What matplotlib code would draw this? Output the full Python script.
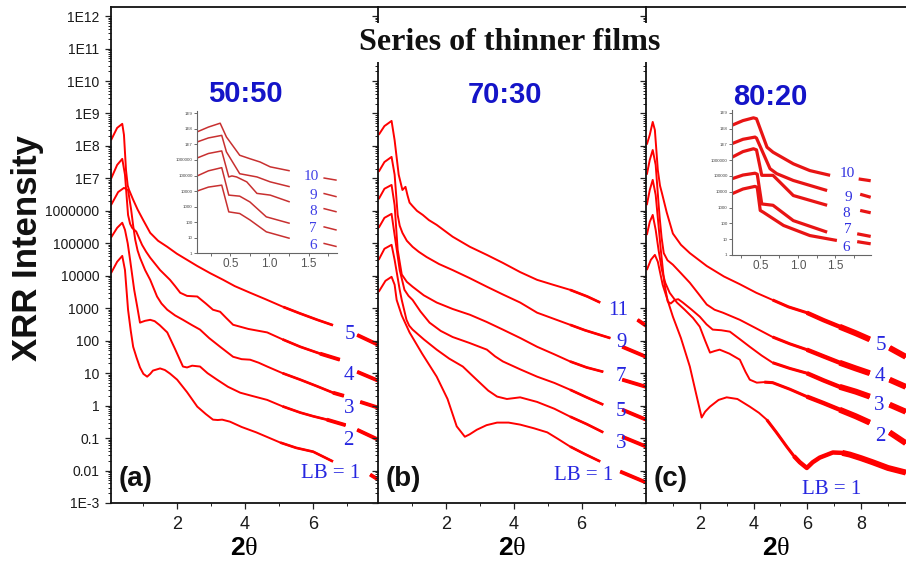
import numpy as np
import matplotlib
matplotlib.use('Agg')
import matplotlib.pyplot as plt
from matplotlib.ticker import LogLocator, FuncFormatter, FixedLocator, NullFormatter

plt.rcParams['font.family'] = ['Liberation Sans', 'DejaVu Sans']
plt.rcParams['mathtext.fontset'] = 'custom'
plt.rcParams['mathtext.bf'] = 'Liberation Sans:bold'
plt.rcParams['mathtext.rm'] = 'Liberation Serif'

nan = np.nan

# ---- (a) 50:50, LB = 1..5 ----
a5_x = [0.07, 0.25, 0.40, 0.45, 0.51, 0.56, 0.60, 0.72, 0.85, 1.01, 1.22, 1.45, 1.72, 2.00, 2.30, 2.60, 2.98, 3.36,
        3.70, 4.15, 4.60, 5.12, 5.60, 6.12, 6.58, nan, 7.29, 7.90]
a5_y = [1.5e8, 3.6e8, 4.8e8, 2.2e8, 1.8e7, 6.0e6, 4.4e6, 2.2e6, 1.1e6, 5.3e5, 2.1e5, 1.2e5, 7.8e4, 4.8e4, 3.1e4, 2.0e4,
        1.2e4, 7.5e3, 4.8e3, 3.0e3, 1.9e3, 1.1e3, 7.0e2, 4.4e2, 3.0e2, nan, 1.5e2, 75]
a4_x = [0.07, 0.25, 0.40, 0.48, 0.57, 0.63, 0.69, 0.81, 0.90, 0.98, 1.10, 1.22, 1.51, 1.80, 1.95, 2.10, 2.30, 2.60,
        2.85, 3.06, 3.27, 3.45, 3.65, 4.10, 4.65, 5.10, 5.62, 6.20, 6.78, nan, 7.29, 7.90]
a4_y = [9.7e6, 2.6e7, 4.0e7, 1.3e7, 7.5e5, 4.0e5, 3.0e5, 2.3e5, 1.4e5, 9.0e4, 5.5e4, 3.6e4, 1.5e4, 7.5e3, 4.8e3, 3.0e3,
        2.4e3, 2.3e3, 1.4e3, 9.0e2, 7.8e2, 5.0e2, 3.1e2, 2.3e2, 1.8e2, 1.1e2, 65, 40, 26, nan, 11, 5.9]
a3_x = [0.07, 0.28, 0.45, 0.57, 0.66, 0.72, 0.78, 0.85, 0.92, 1.07, 1.22, 1.42, 1.55, 1.72, 1.95, 2.18, 2.45, 2.68,
        2.95, 3.27, 3.65, 3.90, 4.15, 4.40, 4.65, 5.10, 5.62, 6.10, 6.58, 6.90, nan, 7.38, 7.90]
a3_y = [1.5e6, 3.8e6, 5.1e6, 4.4e6, 1.1e6, 3.5e5, 1.3e5, 6.0e4, 3.6e4, 1.5e4, 7.5e3, 2.3e3, 1.4e3, 9.0e2, 6.0e2, 4.4e2,
        3.0e2, 2.2e2, 1.2e2, 65, 32, 27, 26, 21, 16, 10, 6.3, 4.0, 2.5, 2.0, nan, 1.3, 0.87]
a2_x = [0.07, 0.25, 0.40, 0.48, 0.56, 0.63, 0.75, 0.84, 0.92, 0.98, 1.07, 1.22, 1.35, 1.50, 1.72, 1.95, 2.18, 2.30,
        2.45, 2.68, 2.90, 3.18, 3.50, 3.86, 4.20, 4.65, 5.10, 5.62, 6.00, 6.40, 6.95, nan, 7.29, 7.90]
a2_y = [1.5e5, 3.0e5, 4.3e5, 2.6e5, 1.0e5, 3.1e4, 3.7e3, 1.1e3, 3.6e2, 3.8e2, 4.1e2, 4.4e2, 4.0e2, 3.0e2, 1.8e2, 55,
        16, 15, 17, 16, 10, 6.3, 3.8, 2.5, 2.0, 1.5, 0.95, 0.61, 0.47, 0.37, 0.25, nan, 0.18, 0.09]
a1_x = [0.07, 0.25, 0.40, 0.48, 0.57, 0.65, 0.72, 0.82, 0.92, 1.02, 1.13, 1.22, 1.30, 1.51, 1.65, 1.80, 2.01, 2.30,
        2.60, 2.85, 3.06, 3.20, 3.33, 3.56, 3.90, 4.33, 5.03, 5.50, 6.00, 6.58, nan, 7.67, 7.90]
a1_y = [1.2e4, 2.7e4, 4.1e4, 1.5e4, 9.0e2, 2.0e2, 65, 30, 15, 9.5, 7.8, 9.5, 12, 14, 12.5, 9.7, 6.3, 2.6,
        0.93, 0.55, 0.37, 0.36, 0.37, 0.32, 0.22, 0.15, 0.073, 0.050, 0.038, 0.019, nan, 0.0075, 0.0053]
a_text = ['5', '4', '3', '2', 'LB = 1']
a_text_x = [7.08, 7.05, 7.05, 7.02, 6.50]
a_text_y = [150, 8.3, 0.81, 0.083, 0.0081]

# ---- (b) 70:30, LB = 1..11 ----
b11_x = [0.02, 0.19, 0.40, 0.49, 0.61, 0.72, 0.81, 0.87, 0.93, 1.02, 1.15, 1.32, 1.50, 1.73, 2.20, 2.71, 3.21, 3.68,
         4.19, 4.69, 5.16, 5.66, 6.17, 6.55, nan, 7.65, 7.90]
b11_y = [2.2e8, 4.1e8, 5.9e8, 1.5e8, 1.3e7, 4.4e6, 5.5e6, 3.0e6, 1.8e6, 1.4e6, 1.0e6, 7.5e5, 5.2e5, 3.7e5, 1.6e5,
         7.8e4, 4.4e4, 2.5e4, 1.3e4, 7.5e3, 5.3e3, 3.7e3, 2.3e3, 1.5e3, nan, 4.4e2, 2.9e2]
b9_x = [0.02, 0.19, 0.40, 0.49, 0.58, 0.64, 0.72, 0.85, 1.02, 1.20, 1.43, 1.80, 2.20, 2.70, 3.21, 3.70, 4.19, 4.69,
        5.66, 6.10, 6.55, 6.85, nan, 7.20, 7.90]
b9_y = [1.6e7, 3.2e7, 4.6e7, 1.3e7, 7.5e5, 3.5e5, 2.1e5, 1.2e5, 7.8e4, 5.5e4, 3.8e4, 2.3e4, 1.5e4, 8.5e3, 4.6e3,
        2.6e3, 1.5e3, 7.3e2, 3.1e2, 2.1e2, 1.5e2, 1.2e2, nan, 65, 32]
b7_x = [0.02, 0.19, 0.40, 0.49, 0.58, 0.70, 0.85, 1.02, 1.35, 1.73, 2.20, 2.71, 3.20, 3.68, 4.20, 4.69, 5.20, 5.66,
        6.15, 6.64, nan, 7.20, 7.90]
b7_y = [2.3e6, 4.8e6, 6.3e6, 1.5e6, 6.3e4, 1.1e4, 6.5e3, 4.6e3, 2.5e3, 1.5e3, 9.5e2, 6.3e2, 3.8e2, 2.2e2, 1.2e2, 65,
        38, 23, 15, 11, nan, 6.3, 3.8]
b5_x = [0.02, 0.19, 0.40, 0.49, 0.64, 0.78, 0.90, 1.02, 1.25, 1.52, 1.85, 2.20, 2.70, 3.21, 3.45, 3.68, 4.20, 4.69,
        5.20, 5.66, 6.15, 6.64, nan, 7.20, 7.90]
b5_y = [3.0e5, 6.1e5, 8.1e5, 1.8e5, 1.5e4, 3.7e3, 2.4e3, 1.8e3, 8.0e2, 3.6e2, 2.0e2, 1.3e2, 85, 53, 33, 23, 13, 7.8,
        5.0, 3.1, 1.8, 1.07, nan, 0.75, 0.37]
b3_x = [0.02, 0.19, 0.40, 0.49, 0.64, 0.70, 0.84, 0.92, 1.02, 1.35, 1.73, 2.10, 2.50, 2.75, 3.00, 3.25, 3.51, 3.80,
        4.19, 4.69, 5.20, 5.66, 6.15, 6.64, nan, 7.20, 7.90]
b3_y = [3.1e4, 6.8e4, 9.0e4, 3.1e4, 3.7e3, 1.8e3, 4.4e2, 2.9e2, 2.2e2, 1.1e2, 53, 28, 16, 9.0, 5.1, 2.9, 1.9, 1.6,
        1.8, 1.3, 0.80, 0.46, 0.27, 0.15, nan, 0.11, 0.055]
b1_x = [0.02, 0.22, 0.40, 0.49, 0.55, 0.70, 0.93, 1.30, 1.73, 2.05, 2.32, 2.56, 2.70, 2.91, 3.20, 3.51, 3.85, 4.19,
        4.60, 4.99, 5.30, 5.66, 6.10, 6.55, nan, 7.14, 7.90]
b1_y = [3.2e3, 7.0e3, 9.3e3, 5.3e3, 1.8e3, 6.0e2, 1.8e2, 40, 7.8, 1.6, 0.23, 0.11, 0.13, 0.18, 0.25, 0.30, 0.30, 0.26,
        0.20, 0.15, 0.095, 0.055, 0.032, 0.019, nan, 0.0093, 0.0043]
b_text = ['11', '9', '7', '5', '3', 'LB = 1']
b_text_x = [7.09, 7.17, 7.17, 7.17, 7.17, 6.05]
b_text_y = [860, 87, 7.8, 0.66, 0.067, 0.0071]

# ---- (c) 80:20, LB = 1..5 ----
c5_x = [0.03, 0.14, 0.25, 0.33, 0.44, 0.52, 0.59, 0.77, 1.00, 1.30, 1.63, 2.26, 2.90, 3.49, 4.10, 4.71, 5.30, 5.98,
        6.60, 7.20, 7.80, 8.32, nan, 9.06, 9.66]
c5_y = [1.1e8, 2.2e8, 5.5e8, 3.1e8, 1.8e7, 6.0e6, 3.6e6, 9.0e5, 2.0e5, 9.0e4, 5.0e4, 2.0e4, 9.5e3, 5.5e3, 3.0e3,
        1.8e3, 1.1e3, 7.3e2, 4.3e2, 2.7e2, 1.7e2, 1.1e2, nan, 60, 32]
c4_x = [0.03, 0.14, 0.25, 0.36, 0.46, 0.51, 0.58, 0.66, 0.80, 1.00, 1.30, 1.63, 1.95, 2.26, 2.55, 2.86, 3.49, 4.10,
        4.71, 5.35, 5.98, 6.60, 7.20, 7.80, 8.32, nan, 9.06, 9.66]
c4_y = [1.3e7, 3.7e7, 7.5e7, 2.6e7, 2.0e6, 6.0e5, 1.5e5, 5.0e4, 3.0e4, 2.2e4, 1.2e4, 6.1e3, 2.8e3, 1.3e3, 9.0e2,
        7.3e2, 4.4e2, 2.4e2, 1.3e2, 80, 53, 33, 21, 14, 10, nan, 6.3, 3.8]
c3_x = [0.03, 0.14, 0.25, 0.36, 0.46, 0.55, 0.68, 0.81, 0.92, 1.07, 1.20, 1.37, 1.70, 2.00, 2.25, 2.48, 2.80, 3.12,
        3.50, 3.86, 4.30, 4.71, 5.35, 5.98, 6.60, 7.20, 7.80, 8.32, nan, 9.06, 9.66]
c3_y = [1.5e6, 4.4e6, 9.0e6, 3.1e6, 4.0e5, 6.3e4, 6.0e3, 1.6e3, 1.4e3, 1.8e3, 1.9e3, 1.5e3, 9.0e2, 5.5e2, 3.2e2,
        2.2e2, 2.1e2, 1.9e2, 1.1e2, 65, 35, 21, 14, 10, 6.0, 3.8, 2.7, 1.9, nan, 1.07, 0.65]
c2_x = [0.03, 0.14, 0.25, 0.36, 0.47, 0.59, 0.72, 0.88, 1.15, 1.44, 1.75, 2.00, 2.20, 2.38, 2.55, 2.74, 3.10, 3.49,
        3.70, 3.86, 4.12, 4.40, 4.71, 5.35, 5.98, 6.60, 7.20, 7.80, 8.32, nan, 9.06, 9.66]
c2_y = [1.8e5, 4.6e5, 7.5e5, 2.6e5, 6.0e4, 1.5e4, 6.0e3, 3.0e3, 1.5e3, 9.0e2, 5.0e2, 2.7e2, 1.0e2, 43, 48, 53, 40,
        26, 11, 6.3, 5.1, 5.3, 5.1, 3.2, 1.9, 1.2, 0.75, 0.47, 0.30, nan, 0.15, 0.07]
c1_x = [0.03, 0.18, 0.33, 0.44, 0.62, 0.80, 1.00, 1.30, 1.63, 1.85, 2.07, 2.20, 2.38, 2.70, 3.00, 3.40, 3.86, 4.20,
        4.49, 4.85, 5.23, 5.50, 5.72, 5.98, 6.20, 6.46, 6.95, 7.30, 7.58, 8.00, 8.43, 9.00, 9.66]
c1_y = [1.5e4, 3.1e4, 4.4e4, 2.7e4, 5.3e3, 1.8e3, 5.5e2, 1.2e2, 16, 2.6, 0.43, 0.65, 0.93, 1.5, 1.8, 1.6, 0.93, 0.60,
        0.37, 0.15, 0.055, 0.028, 0.018, 0.012, 0.018, 0.025, 0.036, 0.035, 0.031, 0.024, 0.018, 0.012, 0.0087]
c_text = ['5', '4', '3', '2', 'LB = 1']
c_text_x = [8.73, 8.69, 8.69, 8.73, 6.90]
c_text_y = [70, 7.8, 1.0, 0.11, 0.0026]

# ---- inset of (a): LB = 6..10 ----
ia10_x = [0.07, 0.22, 0.37, 0.45, 0.62, 0.75, 0.88, 1.01, 1.26, nan, 1.69, 1.86]
ia10_y = [6.2e7, 1.3e8, 2.3e8, 3.0e7, 2.0e6, 1.2e6, 7.4e5, 3.6e5, 2.0e5, nan, 7.0e4, 5.0e4]
ia9_x = [0.07, 0.22, 0.39, 0.45, 0.62, 0.84, 1.01, 1.26, nan, 1.69, 1.86]
ia9_y = [1.4e7, 2.6e7, 3.8e7, 3.3e6, 1.3e5, 8.1e4, 3.9e4, 1.9e4, nan, 7.1e3, 4.3e3]
ia8_x = [0.07, 0.22, 0.39, 0.48, 0.52, 0.58, 0.71, 0.84, 1.01, 1.26, nan, 1.69, 1.86]
ia8_y = [1.3e6, 2.6e6, 3.8e6, 8.1e4, 9.4e4, 8.1e4, 3.9e4, 7.1e3, 5.5e3, 2.0e3, nan, 7.6e2, 4.6e2]
ia7_x = [0.07, 0.22, 0.39, 0.48, 0.62, 0.75, 0.96, 1.26, nan, 1.69, 1.86]
ia7_y = [9.1e4, 2.0e5, 3.2e5, 5.5e3, 4.7e3, 2.0e3, 2.2e2, 84, nan, 51, 31]
ia6_x = [0.07, 0.22, 0.39, 0.48, 0.62, 0.75, 0.96, 1.26, nan, 1.69, 1.86]
ia6_y = [9.8e3, 1.8e4, 2.4e4, 4.6e2, 3.6e2, 1.4e2, 24, 9.1, nan, 4.4, 2.7]
ia_text = ['10', '9', '8', '7', '6']
ia_text_x = [1.54, 1.56, 1.56, 1.56, 1.56]
ia_text_y = [9.1e4, 5.5e3, 4.6e2, 40, 3.4]

# ---- inset of (c): LB = 6..10 ----
ic10_x = [0.12, 0.27, 0.41, 0.45, 0.59, 0.67, 0.94, 1.16, 1.43, nan, 1.81, 1.97]
ic10_y = [1.6e8, 3.2e8, 4.8e8, 4.2e8, 6.6e6, 3.2e6, 5.9e5, 2.2e5, 1.1e5, nan, 6.5e4, 5.0e4]
ic9_x = [0.12, 0.27, 0.43, 0.45, 0.63, 0.72, 0.94, 1.39, nan, 1.83, 1.97]
ic9_y = [1.1e7, 2.1e7, 2.9e7, 2.5e7, 2.9e5, 1.4e5, 5.2e4, 1.2e4, nan, 7.0e3, 4.5e3]
ic8_x = [0.12, 0.27, 0.41, 0.45, 0.52, 0.67, 0.94, 1.39, nan, 1.83, 1.97]
ic8_y = [1.5e6, 3.5e6, 5.3e6, 4.5e6, 1.1e5, 1.1e5, 5.8e3, 1.4e3, nan, 6.6e2, 4.7e2]
ic7_x = [0.12, 0.27, 0.43, 0.46, 0.52, 0.67, 0.94, 1.39, nan, 1.79, 1.97]
ic7_y = [6.6e4, 1.15e5, 1.5e5, 1.3e5, 1.7e3, 1.4e3, 1.5e2, 28, nan, 22, 15]
ic6_x = [0.12, 0.27, 0.43, 0.46, 0.50, 0.54, 0.81, 1.16, 1.52, nan, 1.79, 1.97]
ic6_y = [7.4e3, 1.5e4, 2.2e4, 1.9e4, 6.6e2, 5.1e2, 74, 17, 8.3, nan, 7.0, 5.1]
ic_text = ['10', '9', '8', '7', '6']
ic_text_x = [1.66, 1.67, 1.65, 1.67, 1.65]
ic_text_y = [1.4e5, 4.5e3, 4.0e2, 41, 3.1]

RED = '#ff0000'
BLUE = '#2626e0'
TITLE_BLUE = '#1414c8'


def log_label(v, pos):
    if v <= 0:
        return ''
    e = int(round(np.log10(v)))
    if e >= 7 or e <= -3:
        return '1E%d' % e
    if e >= 0:
        return '%d' % (10 ** e)
    return '%.*f' % (-e, 10.0 ** e)


def draw_curve(ax, xs, ys, lw, color, noisy=()):
    xs = np.array(xs, dtype=float)
    ys = np.array(ys, dtype=float)
    ax.plot(xs, ys, color=color, lw=lw, solid_capstyle='butt')
    # high-angle part of the scan is noisy -> drawn as a band that widens
    for x_from, nlw in noisy:
        with np.errstate(invalid='ignore'):
            yn = np.where(xs >= x_from, ys, np.nan)
        ax.plot(xs, yn, color=color, lw=nlw, solid_capstyle='butt')


fig = plt.figure(figsize=(9.06, 5.72), dpi=100)
W, H = 906.0, 572.0
bottom = (H - 503) / H
height = (503 - 6.7) / H

ax_a = fig.add_axes([111 / W, bottom, 267 / W, height])
ax_b = fig.add_axes([378 / W, bottom, 268 / W, height])
ax_c = fig.add_axes([646 / W, bottom, 260 / W, height])

panels = [
    (ax_a, (0.07, 7.9), [2, 4, 6], [1, 3, 5, 7],
     [(a5_x, a5_y), (a4_x, a4_y), (a3_x, a3_y), (a2_x, a2_y), (a1_x, a1_y)],
     a_text, a_text_x, a_text_y, [(5.0, 1.9), (6.2, 2.8)], '50:50', (0.504, 0.808), '(a)'),
    (ax_b, (0.0, 7.9), [2, 4, 6], [1, 3, 5, 7],
     [(b11_x, b11_y), (b9_x, b9_y), (b7_x, b7_y), (b5_x, b5_y), (b3_x, b3_y), (b1_x, b1_y)],
     b_text, b_text_x, b_text_y, [(5.5, 1.9), (6.6, 2.8)], '70:30', (0.474, 0.806), '(b)'),
    (ax_c, (0.0, 9.67), [2, 4, 6, 8], [1, 3, 5, 7, 9],
     [(c5_x, c5_y), (c4_x, c4_y), (c3_x, c3_y), (c2_x, c2_y), (c1_x, c1_y)],
     c_text, c_text_x, c_text_y, [(4.4, 2.2), (5.5, 3.2), (7.0, 4.3)], '80:20', (0.477, 0.802), '(c)'),
]

for (ax, xlim, xmaj, xmin, curves, labels, lx, ly, noisy,
     ratio, rpos, tag) in panels:
    for xs, ys in curves:
        draw_curve(ax, xs, ys, 1.4, RED, noisy)
    for t, x, y in zip(labels, lx, ly):
        ax.text(x, y, t, color=BLUE, family='Liberation Serif', fontsize=15,
                ha='center', va='center')

    ax.set_yscale('log')
    ax.set_ylim(1e-3, 1.95e12)
    ax.set_xlim(*xlim)
    ax.yaxis.set_major_locator(LogLocator(base=10, numticks=30))
    ax.yaxis.set_minor_locator(LogLocator(base=10, subs=np.arange(2, 10), numticks=30))
    ax.yaxis.set_minor_formatter(NullFormatter())
    ax.xaxis.set_major_locator(FixedLocator(xmaj))
    ax.xaxis.set_minor_locator(FixedLocator(xmin))

    ax.tick_params(axis='both', which='major', direction='out', length=4.5,
                   width=0.9, color='#222222', top=False, right=False)
    ax.tick_params(axis='both', which='minor', direction='out', length=2.4,
                   width=0.7, color='#222222', top=False, right=False)
    ax.tick_params(axis='x', labelsize=13, pad=5, labelcolor='#1a1a1a')
    for s in ax.spines.values():
        s.set_linewidth(1.3)
        s.set_color('#111111')

    ax.set_xlabel(r'$\mathbf{2}\mathrm{\theta}$', fontsize=19, labelpad=2)
    ax.text(rpos[0], rpos[1], ratio, transform=ax.transAxes, color=TITLE_BLUE,
            fontsize=21, fontweight='bold', ha='center', va='baseline')
    ax.text(0.03, 0.034, tag, transform=ax.transAxes, fontsize=20,
            fontweight='bold', ha='left', va='baseline', color='#111111')

ax_a.yaxis.set_major_formatter(FuncFormatter(log_label))
ax_a.tick_params(axis='y', labelsize=10, pad=4, labelcolor='#1a1a1a')
for ax in (ax_a, ax_b, ax_c):
    ax.spines['right'].set_visible(False)
for ax in (ax_b, ax_c):
    ax.tick_params(axis='y', which='both', labelleft=False)

# insets with the thicker films
insets = [
    ([196.7, 111.0, 336.7, 253.3], (0.07, 1.86), (1, 1.4e9),
     [(ia10_x, ia10_y), (ia9_x, ia9_y), (ia8_x, ia8_y), (ia7_x, ia7_y), (ia6_x, ia6_y)],
     ia_text, ia_text_x, ia_text_y, 1.1, '#c83030', '#4040e6'),
    ([731.7, 110.0, 870.7, 255.0], (0.12, 1.97), (1, 1.5e9),
     [(ic10_x, ic10_y), (ic9_x, ic9_y), (ic8_x, ic8_y), (ic7_x, ic7_y), (ic6_x, ic6_y)],
     ic_text, ic_text_x, ic_text_y, 2.3, '#e81414', '#3030e0'),
]
for box, xlim, ylim, curves, labels, lx, ly, lw, col, tcol in insets:
    x0, y0, x1, y1 = box
    ins = fig.add_axes([x0 / W, (H - y1) / H, (x1 - x0) / W, (y1 - y0) / H])
    ins.patch.set_alpha(0)
    for xs, ys in curves:
        draw_curve(ins, xs, ys, lw, col)
    for t, x, y in zip(labels, lx, ly):
        ins.text(x, y, t, color=tcol, family='Liberation Serif', fontsize=11,
                 ha='center', va='center')
    ins.set_yscale('log')
    ins.set_xlim(*xlim)
    ins.set_ylim(*ylim)
    ins.yaxis.set_major_locator(LogLocator(base=10, numticks=20))
    ins.yaxis.set_minor_locator(LogLocator(base=10, subs=(), numticks=20))
    ins.yaxis.set_major_formatter(FuncFormatter(log_label))
    ins.xaxis.set_major_locator(FixedLocator([0.5, 1.0, 1.5]))
    ins.xaxis.set_minor_locator(FixedLocator([0.25, 0.75, 1.25, 1.75]))
    ins.xaxis.set_major_formatter(FuncFormatter(lambda v, p: '%.1f' % v))
    ins.tick_params(axis='y', labelsize=3.2, length=2, width=0.6, pad=1,
                    color='#555555', labelcolor='#444444')
    ins.tick_params(axis='x', which='both', labelsize=8.5, length=2.2, width=0.6,
                    pad=1.5, color='#555555', labelcolor='#555555')
    ins.spines['top'].set_visible(False)
    ins.spines['right'].set_visible(False)
    for s in ('left', 'bottom'):
        ins.spines[s].set_color('#666666')
        ins.spines[s].set_linewidth(0.8)

fig.text(27.6 / W, 1 - 248 / H, 'XRR Intensity', rotation=90, fontsize=25,
         fontweight='bold', ha='center', va='center', color='#111111')
fig.text(510 / W, 1 - 50 / H, 'Series of thinner films', family='Liberation Serif',
         fontsize=23, fontweight='bold', ha='center', va='baseline', color='#111111',
         bbox=dict(facecolor='white', edgecolor='none', pad=4))

fig.savefig('out.png', dpi=100, facecolor='white')
